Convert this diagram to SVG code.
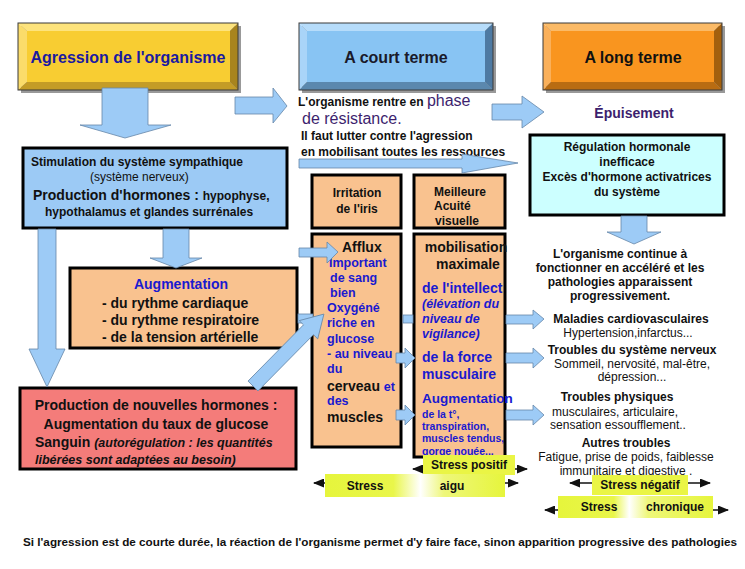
<svg xmlns="http://www.w3.org/2000/svg" width="745" height="569" viewBox="0 0 745 569">
<defs>
<style>
text{font-family:"Liberation Sans",Arial,sans-serif;font-weight:bold;fill:#111}
.n{font-weight:normal}
.i{font-style:italic}
.c{text-anchor:middle}
.blue{fill:#1a1ad0}
.purple{fill:#3d1f6e}
.box{stroke:#000;stroke-width:3}
.barrow{fill:#9dcbf6;stroke:#6686a8;stroke-width:0.8}
.peach{fill:#f9c28f}
.sline{stroke:#111;stroke-width:1.5;marker-end:url(#ah)}
</style>
<marker id="ah" markerUnits="userSpaceOnUse" markerWidth="11" markerHeight="9" refX="10" refY="4.5" orient="auto">
<path d="M0,0 L11,4.5 L0,9 z" fill="#111"/>
</marker>
<linearGradient id="g1" x1="0" y1="0" x2="1" y2="0">
<stop offset="0" stop-color="#e6f53c"/>
<stop offset="0.38" stop-color="#e9f64a"/>
<stop offset="0.53" stop-color="#ffffff"/>
<stop offset="0.66" stop-color="#eef77a"/>
<stop offset="1" stop-color="#e6f53c"/>
</linearGradient>
<linearGradient id="g2" x1="0" y1="0" x2="1" y2="0">
<stop offset="0" stop-color="#e6f53c"/>
<stop offset="0.36" stop-color="#e9f64a"/>
<stop offset="0.46" stop-color="#ffffff"/>
<stop offset="0.58" stop-color="#eef77a"/>
<stop offset="1" stop-color="#e6f53c"/>
</linearGradient>
</defs>
<rect width="745" height="569" fill="#fff"/>

<!-- Header: Agression -->
<g id="agression">
<rect x="21" y="26" width="220" height="67" fill="#999"/>
<rect x="27" y="31" width="203" height="51" fill="#f8cd32"/>
<polygon points="18,23 238,23 230,31 27,31" fill="#fde37c"/>
<polygon points="18,23 27,31 27,82 18,90" fill="#fbdc6a"/>
<polygon points="238,23 238,90 230,82 230,31" fill="#a8841e"/>
<polygon points="18,90 238,90 230,82 27,82" fill="#c49c26"/>
<rect x="18" y="23" width="220" height="67" fill="none" stroke="#3a3a3a" stroke-width="1"/>
<text x="128" y="63" class="c" font-size="16" style="fill:#1a1aa0">Agression de l'organisme</text>
</g>

<!-- Header: A court terme -->
<g id="court">
<rect x="302" y="26" width="194" height="67" fill="#999"/>
<rect x="307" y="31" width="178" height="51" fill="#88c4f3"/>
<polygon points="299,23 493,23 485,31 307,31" fill="#b6dcfa"/>
<polygon points="299,23 307,31 307,82 299,90" fill="#a9d4f8"/>
<polygon points="493,23 493,90 485,82 485,31" fill="#4e7aa2"/>
<polygon points="299,90 493,90 485,82 307,82" fill="#5b88ae"/>
<rect x="299" y="23" width="194" height="67" fill="none" stroke="#3a3a3a" stroke-width="1"/>
<text x="396" y="63" class="c" font-size="16" style="fill:#1a1a2a">A court terme</text>
</g>

<!-- Header: A long terme -->
<g id="long">
<rect x="546" y="26" width="179" height="67" fill="#999"/>
<rect x="551" y="31" width="163" height="51" fill="#f9951f"/>
<polygon points="543,23 722,23 714,31 551,31" fill="#fbba66"/>
<polygon points="543,23 551,31 551,82 543,90" fill="#fab05a"/>
<polygon points="722,23 722,90 714,82 714,31" fill="#a3600e"/>
<polygon points="543,90 722,90 714,82 551,82" fill="#b96c12"/>
<rect x="543" y="23" width="179" height="67" fill="none" stroke="#3a3a3a" stroke-width="1"/>
<text x="633" y="63" class="c" font-size="16">A long terme</text>
</g>

<!-- Resistance text -->
<g id="resistance">
<text x="298" y="106" font-size="12">L'organisme rentre en <tspan class="n purple" font-size="16">phase</tspan></text>
<text x="302" y="124" class="n purple" font-size="16">de résistance.</text>
<text x="301" y="140" font-size="12">Il faut lutter contre l'agression</text>
<text x="301" y="156" font-size="12">en mobilisant toutes les ressources</text>
</g>

<g id="epuisement">
<text x="634" y="118" class="c purple" font-size="14">Épuisement</text>
</g>

<!-- Cyan box -->
<g id="regulation">
<rect x="530" y="135" width="194" height="80" fill="#ccffff" class="box"/>
<text x="627" y="151" class="c" font-size="12">Régulation hormonale</text>
<text x="627" y="166" class="c" font-size="12">inefficace</text>
<text x="627" y="181" class="c" font-size="12">Excès d'hormone activatrices</text>
<text x="627" y="196" class="c" font-size="12">du système</text>
</g>

<!-- Stimulation box -->
<g id="stimulation">
<rect x="23" y="148" width="264" height="80" fill="#9ccaf5" class="box"/>
<text x="31" y="166" font-size="12">Stimulation du système sympathique</text>
<text x="90" y="181" class="n" font-size="12">(système nerveux)</text>
<text x="33" y="200" font-size="14">Production d'hormones : <tspan font-size="12">hypophyse,</tspan></text>
<text x="45" y="216" font-size="12">hypothalamus et glandes surrénales</text>
</g>

<!-- Augmentation box -->
<g id="augmentation">
<rect x="70" y="268" width="227" height="80" class="box peach"/>
<text x="181" y="289" class="c blue" font-size="14">Augmentation</text>
<text x="102" y="308" font-size="14">-  du rythme cardiaque</text>
<text x="102" y="325" font-size="14">-  du rythme respiratoire</text>
<text x="102" y="342" font-size="14">-  de la tension artérielle</text>
</g>

<!-- Red box -->
<g id="nouvelles">
<rect x="20" y="388" width="276" height="81" fill="#f47c7a" class="box"/>
<text x="156" y="410" class="c" font-size="14">Production de nouvelles hormones :</text>
<text x="156" y="429" class="c" font-size="14">Augmentation du taux de glucose</text>
<text x="35" y="447" font-size="14">Sanguin <tspan class="i" font-size="12.5">(autorégulation : les quantités</tspan></text>
<text x="35" y="464" class="i" font-size="12.5">libérées sont adaptées au besoin)</text>
</g>

<!-- Irritation -->
<g id="irritation">
<rect x="312" y="175" width="89" height="53" class="box peach"/>
<text x="357" y="197" class="c" font-size="12">Irritation</text>
<text x="357" y="213" class="c" font-size="12">de l'iris</text>
</g>

<!-- Meilleure -->
<g id="acuite">
<rect x="414" y="175" width="91" height="53" class="box peach"/>
<text x="434" y="196" font-size="12">Meilleure</text>
<text x="434" y="210" font-size="12">Acuité</text>
<text x="435" y="225" font-size="12">visuelle</text>
</g>

<!-- Afflux -->
<g id="afflux">
<rect x="312" y="234" width="89" height="213" class="box peach"/>
<text x="342" y="252" font-size="14">Afflux</text>
<text x="329" y="267" class="blue" font-size="12.5">Important</text>
<text x="330" y="282" class="blue" font-size="12.5">de  sang</text>
<text x="330" y="297" class="blue" font-size="12.5">bien</text>
<text x="327" y="312" class="blue" font-size="12.5">Oxygéné</text>
<text x="327" y="327" class="blue" font-size="12.5">riche en</text>
<text x="327" y="343" class="blue" font-size="12.5">glucose</text>
<text x="327" y="358" class="blue" font-size="12.5">- au niveau</text>
<text x="327" y="373" class="blue" font-size="12.5">du</text>
<text x="327" y="391" font-size="14">cerveau <tspan class="blue" font-size="12.5">et</tspan></text>
<text x="327" y="405" class="blue" font-size="12.5">des</text>
<text x="327" y="422" font-size="14">muscles</text>
</g>

<!-- Mobilisation -->
<g id="mobilisation">
<rect x="414" y="234" width="91" height="223" class="box peach"/>
<text x="466" y="252" class="c" font-size="14">mobilisation</text>
<text x="468" y="269" class="c" font-size="14">maximale</text>
<text x="422" y="293" class="blue" font-size="14">de l'intellect</text>
<text x="422" y="308" class="blue i" font-size="12.5">(élévation du</text>
<text x="422" y="323" class="blue i" font-size="12.5">niveau de</text>
<text x="422" y="338" class="blue i" font-size="12.5">vigilance)</text>
<text x="422" y="362" class="blue" font-size="14">de la force</text>
<text x="422" y="379" class="blue" font-size="14">musculaire</text>
<text x="422" y="403" class="blue" font-size="13.5">Augmentation</text>
<text x="422" y="418" class="blue" font-size="10.5">de la t°,</text>
<text x="422" y="430" class="blue" font-size="10.5">transpiration,</text>
<text x="422" y="442" class="blue" font-size="10.5">muscles tendus,</text>
<text x="422" y="455" class="blue" font-size="10.5">gorge nouée...</text>
</g>

<!-- Right column texts -->
<g id="pathologies">
<text x="620" y="258" class="c" font-size="12">L'organisme continue à</text>
<text x="620" y="272" class="c" font-size="12">fonctionner en accéléré et les</text>
<text x="620" y="286" class="c" font-size="12">pathologies apparaissent</text>
<text x="620" y="300" class="c" font-size="12">progressivement.</text>
</g>
<g id="cardio">
<text x="631" y="323" class="c" font-size="12">Maladies cardiovasculaires</text>
<text x="628" y="337" class="c n" font-size="12">Hypertension,infarctus...</text>
</g>
<g id="nerveux">
<text x="632" y="354" class="c" font-size="12">Troubles du système nerveux</text>
<text x="632" y="368" class="c n" font-size="12">Sommeil, nervosité, mal-être,</text>
<text x="632" y="381" class="c n" font-size="12">dépression...</text>
</g>
<g id="physiques">
<text x="617" y="401" class="c" font-size="12">Troubles physiques</text>
<text x="615" y="416" class="c n" font-size="12">musculaires, articulaire,</text>
<text x="618" y="429" class="c n" font-size="12">sensation essoufflement..</text>
</g>
<g id="autres">
<text x="626" y="447" class="c" font-size="12">Autres troubles</text>
<text x="626" y="461" class="c n" font-size="12">Fatigue, prise de poids, faiblesse</text>
<text x="626" y="475" class="c n" font-size="12">immunitaire et digestive .</text>
</g>

<!-- Connectors -->
<g id="connectors">
<polygon class="barrow" points="102,88 148,88 148,125 171,125 125,138 80,125 102,125"/>
<polygon class="barrow" points="235,97 273,97 273,88 287,106 273,123 273,114 235,114"/>
<polygon class="barrow" points="492,104 522,104 522,96 544,112 522,128 522,120 492,120"/>
<polygon class="barrow" points="299,159 462,159 462,154 518,163 462,173 462,168 299,168"/>
<polygon class="barrow" points="621,216 647,216 647,232 661,232 634,244 607,232 621,232"/>
<polygon class="barrow" points="38,229 56,229 56,349 65,349 47,387 29,349 38,349"/>
<polygon class="barrow" points="163,229 189,229 189,258 202,258 176,268 150,258 163,258"/>
<polygon class="barrow" points="299,248 327,248 327,242 338,252 327,263 327,257 299,257"/>
<rect class="barrow" x="298" y="314" width="15" height="9"/>
<polygon class="barrow" transform="translate(253,386) rotate(-45.4)" points="0,-7 79,-7 79,-13 101,0 79,13 79,7 0,7"/>
<rect class="barrow" x="403" y="315" width="10" height="8"/>
<polygon class="barrow" points="396,353 405,353 405,348 415,358 405,368 405,363 396,363"/>
<polygon class="barrow" points="396,410 405,410 405,405 415,415 405,425 405,420 396,420"/>
<polygon class="barrow" points="506,315 533,315 533,310 544,319 533,329 533,324 506,324"/>
<polygon class="barrow" points="506,353 533,353 533,348 544,358 533,368 533,363 506,363"/>
<polygon class="barrow" points="506,410 533,410 533,405 544,415 533,425 533,420 506,420"/>
</g>

<!-- Stress bars -->
<g id="stress-positif">
<line x1="423" y1="469" x2="413" y2="469" class="sline"/>
<line x1="515" y1="469" x2="527" y2="469" class="sline"/>
<rect x="423" y="455" width="92" height="20" fill="#eaf545"/>
<text x="469" y="469" class="c" font-size="12">Stress positif</text>
</g>
<g id="stress-aigu">
<line x1="325" y1="483" x2="314" y2="483" class="sline"/>
<line x1="505" y1="483" x2="518" y2="483" class="sline"/>
<rect x="325" y="474" width="180" height="23" fill="url(#g1)"/>
<text x="365" y="490" class="c" font-size="12">Stress</text>
<text x="452" y="490" class="c" font-size="12">aigu</text>
</g>
<g id="stress-negatif">
<line x1="592" y1="483" x2="570" y2="483" class="sline"/>
<line x1="688" y1="483" x2="710" y2="483" class="sline"/>
<rect x="592" y="475" width="96" height="20" fill="#eaf545"/>
<text x="640" y="489" class="c" font-size="12">Stress négatif</text>
</g>
<g id="stress-chronique">
<line x1="558" y1="510" x2="545" y2="510" class="sline"/>
<line x1="713" y1="510" x2="728" y2="510" class="sline"/>
<rect x="558" y="496" width="155" height="22" fill="url(#g2)"/>
<text x="599" y="511" class="c" font-size="12">Stress</text>
<text x="675" y="511" class="c" font-size="12">chronique</text>
</g>

<g id="conclusion">
<text x="23" y="546" font-size="11" textLength="714" lengthAdjust="spacingAndGlyphs">Si l'agression est de courte durée, la réaction de l'organisme permet d'y faire face,  sinon apparition progressive des pathologies</text>
</g>
</svg>
